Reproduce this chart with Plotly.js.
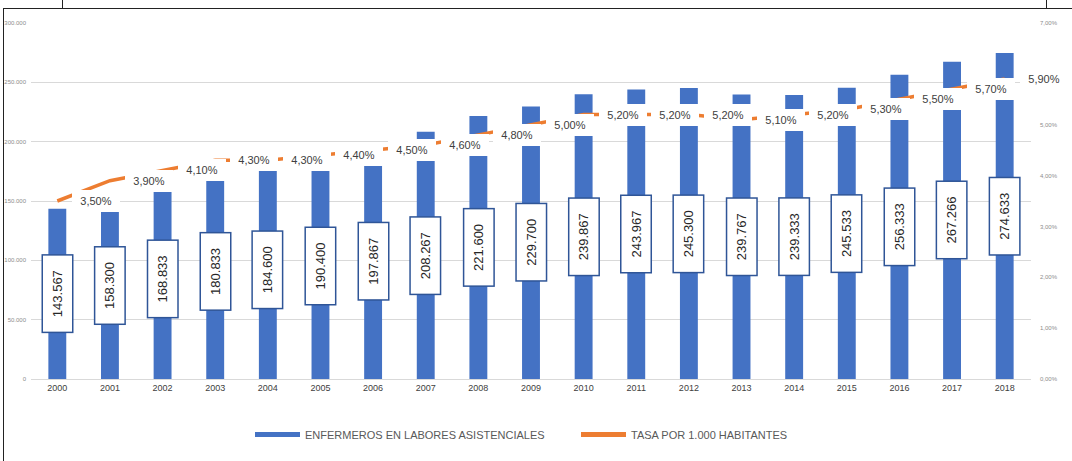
<!DOCTYPE html>
<html>
<head>
<meta charset="utf-8">
<script src="https://cdn.plot.ly/plotly-3.0.1.min.js"></script>
<style>
  html, body { margin: 0; padding: 0; background: #fff; }
  #wrap { position: relative; width: 1072px; height: 461px; overflow: hidden; }
  #chart { position: absolute; left: 0; top: 0; width: 1072px; height: 461px; }
  .fr { position: absolute; background: #222; z-index: 5; }
</style>
</head>
<body>
<div id="wrap">
  <div id="chart"></div>
  <div class="fr" style="left:3px;top:8px;width:1069px;height:1px;"></div>
  <div class="fr" style="left:3px;top:8px;width:1px;height:453px;"></div>
  <div class="fr" style="left:62px;top:0px;width:1px;height:8px;"></div>
  <div class="fr" style="left:1046px;top:0px;width:1px;height:8px;"></div>
</div>
<script>
const years = ["2000","2001","2002","2003","2004","2005","2006","2007","2008","2009",
               "2010","2011","2012","2013","2014","2015","2016","2017","2018"];
const enfermeros = [143567,158300,168833,180833,184600,190400,197867,208267,221600,229700,
                    239867,243967,245300,239767,239333,245533,256333,267266,274633];
const tasa = [0.035,0.039,0.041,0.043,0.043,0.044,0.045,0.046,0.048,0.050,
              0.052,0.052,0.052,0.051,0.052,0.053,0.055,0.057,0.059];
const leftTicks = [0,50000,100000,150000,200000,250000,300000];
const seriesNames = ["ENFERMEROS EN LABORES ASISTENCIALES","TASA POR 1.000 HABITANTES"];

const BLUE = "#4472C4", ORANGE = "#ED7D31";
const fmtThousands = v => String(v).replace(/\B(?=(\d{3})+(?!\d))/g, ".");
const fmtPct = v => (v*100).toFixed(2).replace(".", ",") + "%";

const traces = [
  {type:"bar", x:years, y:enfermeros, marker:{color:BLUE}, showlegend:false, hoverinfo:"skip"},
  {type:"scatter", mode:"lines", x:years, y:tasa, yaxis:"y2",
   line:{color:ORANGE, width:3.5}, showlegend:false, hoverinfo:"skip"},
  {type:"scatter", mode:"lines", x:[years[0]], y:[null], name:seriesNames[0],
   line:{color:BLUE, width:5}, hoverinfo:"skip"},
  {type:"scatter", mode:"lines", x:[years[0]], y:[null], name:seriesNames[1], yaxis:"y2",
   line:{color:ORANGE, width:5}, hoverinfo:"skip"}
];

const annotations = [];
years.forEach((yr, i) => {
  annotations.push({
    x: i, y: enfermeros[i]/2, xref:"x", yref:"y",
    text: fmtThousands(enfermeros[i]), textangle:-90, showarrow:false,
    font:{family:"Liberation Sans, Arial, sans-serif", size:13, color:"#262626"},
    bgcolor:"#ffffff", bordercolor:"#2F5597", borderwidth:1.5, borderpad:1,
    width:74, height:27
  });
});
years.forEach((yr, i) => {
  annotations.push({
    x: i, y: tasa[i], xref:"x", yref:"y2",
    text: fmtPct(tasa[i]), showarrow:false,
    xshift: 39, yshift: 0,
    font:{family:"Liberation Sans, Arial, sans-serif", size:11, color:"#404040"},
    bgcolor:"#ffffff", borderpad:2, borderwidth:0,
    width:44, height:18
  });
});

const layout = {
  width:1072, height:461,
  margin:{l:31, r:41, t:23, b:80},
  paper_bgcolor:"#ffffff", plot_bgcolor:"#ffffff",
  separators:",.",
  bargap:0.66,
  font:{family:"Liberation Sans, Arial, sans-serif", color:"#595959"},
  xaxis:{type:"category", range:[-0.5, years.length-0.5], autorange:false,
         showgrid:false, showline:true, linecolor:"#D9D9D9", linewidth:1,
         ticks:"", tickfont:{size:9, color:"#404040"}},
  yaxis:{range:[0,300000], autorange:false, tickvals:leftTicks, tickformat:",d", showgrid:true,
         gridcolor:"#D9D9D9", gridwidth:1, zeroline:false, showline:false,
         tickfont:{size:6, color:"#8c8c8c"}, ticklabelstandoff:4},
  yaxis2:{overlaying:"y", side:"right", range:[0,0.07], autorange:false, dtick:0.01, tickformat:".2%",
          showgrid:false, zeroline:false, showline:false,
          tickfont:{size:6, color:"#8c8c8c"}, ticklabelstandoff:8},
  legend:{orientation:"h", x:0.219, xanchor:"left", y:-0.156, yanchor:"middle",
          entrywidth:266, entrywidthmode:"pixels",
          font:{size:11, color:"#595959"}, itemwidth:45, bgcolor:"rgba(0,0,0,0)"},
  annotations: annotations
};

Plotly.newPlot("chart", traces, layout, {staticPlot:true, displayModeBar:false});
</script>
</body>
</html>
